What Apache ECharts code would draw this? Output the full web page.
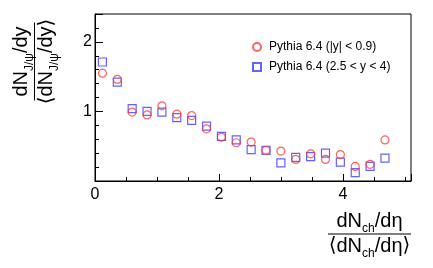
<!DOCTYPE html>
<html>
<head>
<meta charset="utf-8">
<script src="https://cdn.jsdelivr.net/npm/echarts@6/dist/echarts.min.js"></script>
<style>html,body{margin:0;padding:0;background:#fff}#c{width:433px;height:268px}</style>
</head>
<body>
<div id="c"></div>
<script>
// x positions (dNch/dη / <dNch/dη>)
var xBins = [0.12, 0.36, 0.60, 0.84, 1.08, 1.32, 1.56, 1.80, 2.04, 2.28, 2.52, 2.76, 3.00, 3.24, 3.48, 3.72, 3.96, 4.20, 4.44, 4.68];
// Pythia 6.4 (|y| < 0.9)
var midRap = [1.55, 1.46, 0.99, 0.95, 1.08, 0.96, 0.94, 0.75, 0.63, 0.55, 0.56, 0.44, 0.43, 0.31, 0.39, 0.31, 0.38, 0.21, 0.24, 0.59];
// Pythia 6.4 (2.5 < y < 4)
var fwdRap = [1.71, 1.42, 1.04, 1.00, 0.99, 0.91, 0.87, 0.79, 0.64, 0.59, 0.45, 0.44, 0.26, 0.34, 0.35, 0.40, 0.27, 0.12, 0.21, 0.33];
var seriesNames = ['Pythia 6.4 (|y| < 0.9)', 'Pythia 6.4 (2.5 < y < 4)'];
var xTickLabels = [0, 2, 4];
var yTickLabels = [1, 2];

var FONT = "'Liberation Sans', Arial, Helvetica, 'DejaVu Sans', sans-serif";
function pairs(xs, ys) { return xs.map(function (x, i) { return [x, ys[i]]; }); }
function near(v, list) { for (var i = 0; i < list.length; i++) if (Math.abs(v - list[i]) < 1e-6) return true; return false; }

var rich = {
  b: { fontSize: 20, lineHeight: 22, verticalAlign: 'top', fontFamily: FONT, color: '#000' },
  s: { fontSize: 12, lineHeight: 12, padding: [12, 0, 0, 0], verticalAlign: 'top', fontFamily: FONT, color: '#000' },
  a: { fontSize: 20, lineHeight: 22, verticalAlign: 'top', fontFamily: "'DejaVu Sans', sans-serif", color: '#000' }
};
function fraction(num, den, half) {
  return [
    { type: 'text', x: 0, y: -1, style: { text: num, rich: rich, align: 'center', verticalAlign: 'bottom', textAlign: 'center', textVerticalAlign: 'bottom' } },
    { type: 'line', shape: { x1: -half, y1: 0, x2: half, y2: 0 }, style: { stroke: '#000', lineWidth: 1 } },
    { type: 'text', x: 0, y: 2, style: { text: den, rich: rich, align: 'center', verticalAlign: 'top', textAlign: 'center', textVerticalAlign: 'top' } }
  ];
}

var chart = echarts.init(document.getElementById('c'), null, { renderer: 'canvas' });
chart.setOption({
  animation: false,
  backgroundColor: '#fff',
  grid: { left: 95, right: 22, top: 14, bottom: 87, show: true, borderColor: '#000', borderWidth: 1, backgroundColor: 'transparent', containLabel: false },
  legend: {
    orient: 'vertical', left: 247, top: 35, itemWidth: 8, itemHeight: 8, itemGap: 6,
    textStyle: { fontSize: 12, fontFamily: FONT, color: '#000', lineHeight: 14, padding: [0, 0, 0, 3] },
    data: seriesNames
  },
  xAxis: [
    { type: 'value', min: 0, max: 5.1, interval: 0.5, position: 'bottom',
      axisLine: { show: true, lineStyle: { color: '#000', width: 1 } },
      axisTick: { show: true, inside: true, length: 4, lineStyle: { color: '#000' } },
      axisLabel: { show: true, margin: 6, fontSize: 16, fontFamily: FONT, color: '#000', showMaxLabel: false,
        formatter: function (v) { return near(v, xTickLabels) ? String(Math.round(v)) : ''; } },
      splitLine: { show: false } },
    { type: 'value', min: 0, max: 5.1, interval: 2, position: 'bottom', offset: 0,
      axisLine: { show: false }, axisLabel: { show: false }, splitLine: { show: false },
      axisTick: { show: true, inside: true, length: 7, lineStyle: { color: '#000' } } }
  ],
  yAxis: [
    { type: 'value', min: 0, max: 2.4, interval: 0.2, position: 'left',
      axisLine: { show: true, lineStyle: { color: '#000', width: 1 } },
      axisTick: { show: true, inside: true, length: 4, lineStyle: { color: '#000' } },
      axisLabel: { show: true, margin: 3, fontSize: 16, fontFamily: FONT, color: '#000',
        formatter: function (v) { return near(v, yTickLabels) ? String(Math.round(v)) : ''; } },
      splitLine: { show: false } },
    { type: 'value', min: 0, max: 2.4, interval: 1, position: 'left', offset: 0,
      axisLine: { show: false }, axisLabel: { show: false }, splitLine: { show: false },
      axisTick: { show: true, inside: true, length: 8, lineStyle: { color: '#000' } } }
  ],
  series: [
    { name: seriesNames[0], type: 'scatter', xAxisIndex: 0, yAxisIndex: 0, symbol: 'circle', symbolSize: 8,
      itemStyle: { color: 'rgba(0,0,0,0)', borderColor: '#ff3b3b', borderWidth: 1.2 },
      data: pairs(xBins, midRap), z: 3 },
    { name: seriesNames[1], type: 'scatter', xAxisIndex: 0, yAxisIndex: 0, symbol: 'rect', symbolSize: 8,
      itemStyle: { color: 'rgba(0,0,0,0)', borderColor: '#3b3bff', borderWidth: 1.2 },
      data: pairs(xBins, fwdRap), z: 2 }
  ],
  graphic: [
    { type: 'group', x: 369.5, y: 234, children: fraction('{b|dN}{s|ch}{b|/dη}', '{a|⟨}{b|dN}{s|ch}{b|/dη}{a|⟩}', 41.5) },
    { type: 'group', x: 34.5, y: 61.5, rotation: Math.PI / 2, children: fraction('{b|dN}{s|J/ψ}{b|/dy}', '{a|⟨}{b|dN}{s|J/ψ}{b|/dy}{a|⟩}', 39) }
  ]
});
</script>
</body>
</html>
